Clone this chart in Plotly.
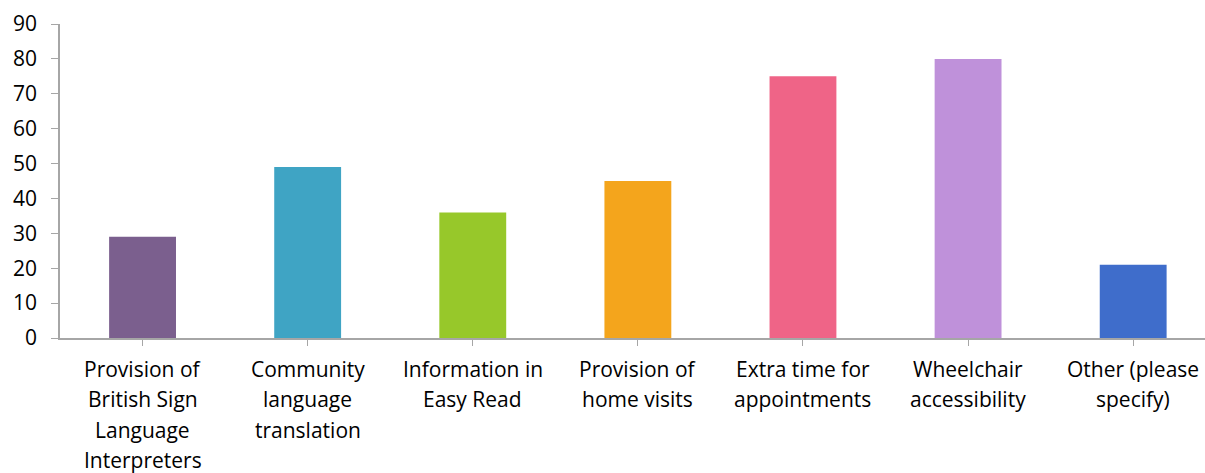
import plotly.graph_objects as go

categories = [
    "Provision of British Sign Language Interpreters",
    "Community language translation",
    "Information in Easy Read",
    "Provision of home visits",
    "Extra time for appointments",
    "Wheelchair accessibility",
    "Other (please specify)",
]
label_lines = [
    ["Provision of", "British Sign", "Language", "Interpreters"],
    ["Community", "language", "translation"],
    ["Information in", "Easy Read"],
    ["Provision of", "home visits"],
    ["Extra time for", "appointments"],
    ["Wheelchair", "accessibility"],
    ["Other (please", "specify)"],
]
values = [29, 49, 36, 45, 75, 80, 21]
colors = ["#7B5F8E", "#3FA4C4", "#97C82A", "#F4A51C", "#EF6487", "#BF91DA", "#3F6DCB"]

FONT = "Open Sans"
fig = go.Figure(go.Bar(x=list(range(len(categories))), y=values, marker_color=colors,
                       marker_line_width=0, width=0.405, hovertext=categories))

annotations = []
for i, lines in enumerate(label_lines):
    for j, line in enumerate(lines):
        annotations.append(dict(x=i, y=0, xref="x", yref="y", text=line, showarrow=False,
                                xanchor="center", yanchor="middle", borderpad=0,
                                yshift=-(30.5 + j * 30.5),
                                font=dict(family=FONT, size=21, color="#000000")))

fig.update_layout(
    width=1205, height=473,
    margin=dict(l=60, r=0, t=24, b=135),
    plot_bgcolor="white", paper_bgcolor="white",
    showlegend=False,
    bargap=0.6,
    annotations=annotations,
    xaxis=dict(range=[-0.5, 6.435], tickmode="array", tickvals=list(range(7)),
               ticktext=[""] * 7, tickson="boundaries", ticks="outside", ticklen=6,
               tickcolor="#A6A6A6", showline=True, linecolor="#A6A6A6", linewidth=1.5,
               showgrid=False, zeroline=False),
    yaxis=dict(range=[0, 90], dtick=10, ticks="outside", ticklen=7, tickcolor="#A6A6A6",
               showline=True, linecolor="#A6A6A6", linewidth=1.5, showgrid=False,
               zeroline=False, ticklabelstandoff=10,
               tickfont=dict(family=FONT, size=21, color="#000000")),
)

fig.write_html("out.html")
